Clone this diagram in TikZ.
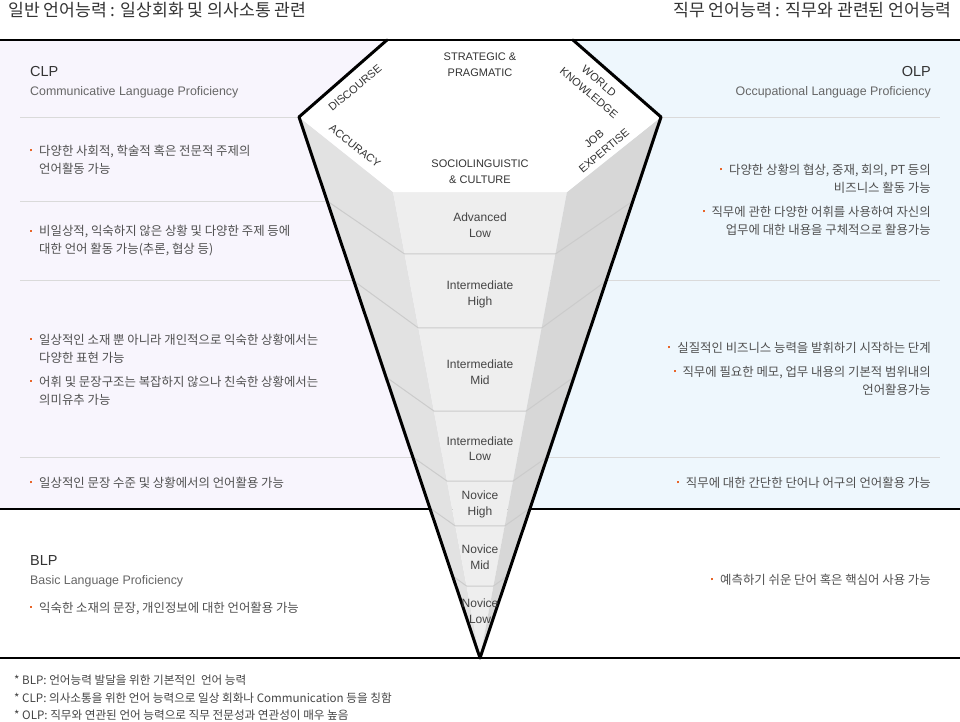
\documentclass[tikz,border=0pt]{standalone}
\usepackage{fontspec}
\setmainfont{Noto Sans CJK KR}
\newfontfamily\enfont{Liberation Sans}
\usetikzlibrary{calc}
\definecolor{lav}{HTML}{F8F5FD}
\definecolor{sky}{HTML}{EEF7FD}
\definecolor{sepc}{HTML}{DADADA}
\definecolor{txt}{HTML}{505050}
\definecolor{darkc}{HTML}{333333}
\definecolor{subc}{HTML}{666666}
\definecolor{labc}{HTML}{444444}
\definecolor{orng}{HTML}{E8662A}
\definecolor{faceL}{HTML}{E2E2E2}
\definecolor{faceF}{HTML}{EEEEEE}
\definecolor{faceR}{HTML}{D7D7D7}
\definecolor{bandc}{HTML}{CBCBCB}
\newcommand\bul{{\color{orng}\rule[4.4pt]{2pt}{2pt}}\hspace{7pt}}
\newcommand\ind{\hspace{9pt}}
\begin{document}
\begin{tikzpicture}[x=1pt,y=-1pt,
  kor/.style={font=\fontsize{12.4}{18}\selectfont, text=txt, inner sep=0pt},
  titlet/.style={font=\fontsize{17.2}{20}\selectfont, text=darkc, inner sep=0pt},
  foot/.style={font=\fontsize{11.6}{18}\selectfont, text=labc, inner sep=0pt, anchor=west},
  abbr/.style={font=\enfont\fontsize{14.5}{18}\selectfont, text=darkc, inner sep=0pt},
  full/.style={font=\enfont\fontsize{12.4}{16}\selectfont, text=subc, inner sep=0pt},
  band/.style={font=\enfont\fontsize{12}{15.5}\selectfont, text=labc, inner sep=0pt, align=center},
  toplab/.style={font=\enfont\fontsize{11}{15.5}\selectfont, text=darkc, inner sep=0pt, align=center},
  sepline/.style={draw=sepc, line width=1pt},
  bandline/.style={draw=bandc, line width=1pt},
  frame/.style={draw=black, line width=1.5pt},
  cone/.style={draw=black, line width=3pt, line join=round, line cap=round}]
\useasboundingbox (0,0) rectangle (960,722);
\fill[white] (0,0) rectangle (960,722);
% backgrounds
\fill[lav] (0,40) rectangle (480,509);
\fill[sky] (480,40) rectangle (960,509);
% separators
\foreach \yy in {118,201,280,457} \draw[sepline] (20,\yy) -- (480,\yy);
\foreach \yy in {118,280,457} \draw[sepline] (480,\yy) -- (940,\yy);
% frame lines
\draw[frame] (0,509) -- (960,509);
\draw[frame] (0,658) -- (960,658);
% cone coordinates
\coordinate (TL) at (387,40);
\coordinate (TR) at (573,40);
\coordinate (OL) at (299,117);
\coordinate (OR) at (661,117);
\coordinate (FL) at (393,192);
\coordinate (FR) at (567,192);
\coordinate (T) at (480,658);
% faces
\fill[faceL] (OL) -- (FL) -- (T) -- cycle;
\fill[faceF] (FL) -- (FR) -- (T) -- cycle;
\fill[faceR] (FR) -- (OR) -- (T) -- cycle;
\fill[white] (TL) -- (TR) -- (OR) -- (FR) -- (FL) -- (OL) -- cycle;
% band lines
\foreach \tf/\to in {0.1330/0.1553, 0.2918/0.3031, 0.4700/0.4806, 0.6202/0.6285, 0.7167/0.7227, 0.8455/0.8484}
  \draw[bandline] ($(OL)!\to!(T)$) -- ($(FL)!\tf!(T)$) -- ($(FR)!\tf!(T)$) -- ($(OR)!\to!(T)$);
% outline
\draw[cone] (TL) -- (OL) -- (T) -- (OR) -- (TR);
\draw[draw=black, line width=2pt] (0,40) -- (960,40);
% titles
\node[titlet, anchor=west] (t1) at (8,10) {일반 언어능력 : 일상회화 및 의사소통 관련};
\node[titlet, anchor=east] (t2) at (952,10) {직무 언어능력 : 직무와 관련된 언어능력};
% headings
\node[abbr, anchor=west] (clp) at (30,72) {CLP};
\node[full, anchor=west] (clpf) at (30,92) {Communicative Language Proficiency};
\node[abbr, anchor=east] (olp) at (931,72) {OLP};
\node[full, anchor=east] (olpf) at (931,92) {Occupational Language Proficiency};
\node[abbr, anchor=west] (blp) at (30,561) {BLP};
\node[full, anchor=west] (blpf) at (30,581) {Basic Language Proficiency};
% left bullets
\node[kor, anchor=west, align=left] (l1) at (30,160) {\bul 다양한 사회적, 학술적 혹은 전문적 주제의\\\ind 언어활동 가능};
\node[kor, anchor=west, align=left] (l2) at (30,241) {\bul 비일상적, 익숙하지 않은 상황 및 다양한 주제 등에\\\ind 대한 언어 활동 가능(추론, 협상 등)};
\node[kor, anchor=west, align=left] (l3) at (30,348.5) {\bul 일상적인 소재 뿐 아니라 개인적으로 익숙한 상황에서는\\\ind 다양한 표현 가능};
\node[kor, anchor=west, align=left] (l4) at (30,390.5) {\bul 어휘 및 문장구조는 복잡하지 않으나 친숙한 상황에서는\\\ind 의미유추 가능};
\node[kor, anchor=west] (l5) at (30,483) {\bul 일상적인 문장 수준 및 상황에서의 언어활용 가능};
\node[kor, anchor=west] (l6) at (30,608) {\bul 익숙한 소재의 문장, 개인정보에 대한 언어활용 가능};
% right bullets
\node[kor, anchor=east, align=right] (r1) at (931,179) {\bul 다양한 상황의 협상, 중재, 회의, PT 등의\\비즈니스 활동 가능\hspace{3pt}};
\node[kor, anchor=east, align=right] (r2) at (931,221) {\bul 직무에 관한 다양한 어휘를 사용하여 자신의\\업무에 대한 내용을 구체적으로 활용가능};
\node[kor, anchor=east] (r3) at (931,348) {\bul 실질적인 비즈니스 능력을 발휘하기 시작하는 단계};
\node[kor, anchor=east, align=right] (r4) at (931,381) {\bul 직무에 필요한 메모, 업무 내용의 기본적 범위내의\\언어활용가능};
\node[kor, anchor=east] (r5) at (931,483) {\bul 직무에 대한 간단한 단어나 어구의 언어활용 가능};
\node[kor, anchor=east] (r6) at (931,580) {\bul 예측하기 쉬운 단어 혹은 핵심어 사용 가능};
% cone top labels
\node[toplab] (strat) at (480,64.5) {STRATEGIC \&\\PRAGMATIC};
\node[toplab] (socio) at (480,171.5) {SOCIOLINGUISTIC\\\& CULTURE};
\node[toplab, rotate=40] (disc) at (355,88) {DISCOURSE};
\node[toplab, rotate=-38] (accu) at (355,146) {ACCURACY};
\node[toplab, rotate=-40] (world) at (594,87) {WORLD\\KNOWLEDGE};
\node[toplab, rotate=40] (job) at (599,145) {JOB\\EXPERTISE};
% band labels
\node[band] (b1) at (480,225) {Advanced\\Low};
\node[band] (b2) at (480,294.5) {Intermediate\\High};
\node[band] (b3) at (480,372) {Intermediate\\Mid};
\node[band] (b4) at (480,448.5) {Intermediate\\Low};
\node[band] (b5) at (480,504.5) {Novice\\High};
\node[band] (b6) at (480,557) {Novice\\Mid};
\node[band] (b7) at (480,611) {Novice\\Low};
% footnotes
\node[foot] (f1) at (14,680) {* BLP: 언어능력 발달을 위한 기본적인\ \ 언어 능력};
\node[foot] (f2) at (14,698) {* CLP: 의사소통을 위한 언어 능력으로 일상 회화나 Communication 등을 칭함};
\node[foot] (f3) at (14,715) {* OLP: 직무와 연관된 언어 능력으로 직무 전문성과 연관성이 매우 높음};
\end{tikzpicture}
\end{document}
